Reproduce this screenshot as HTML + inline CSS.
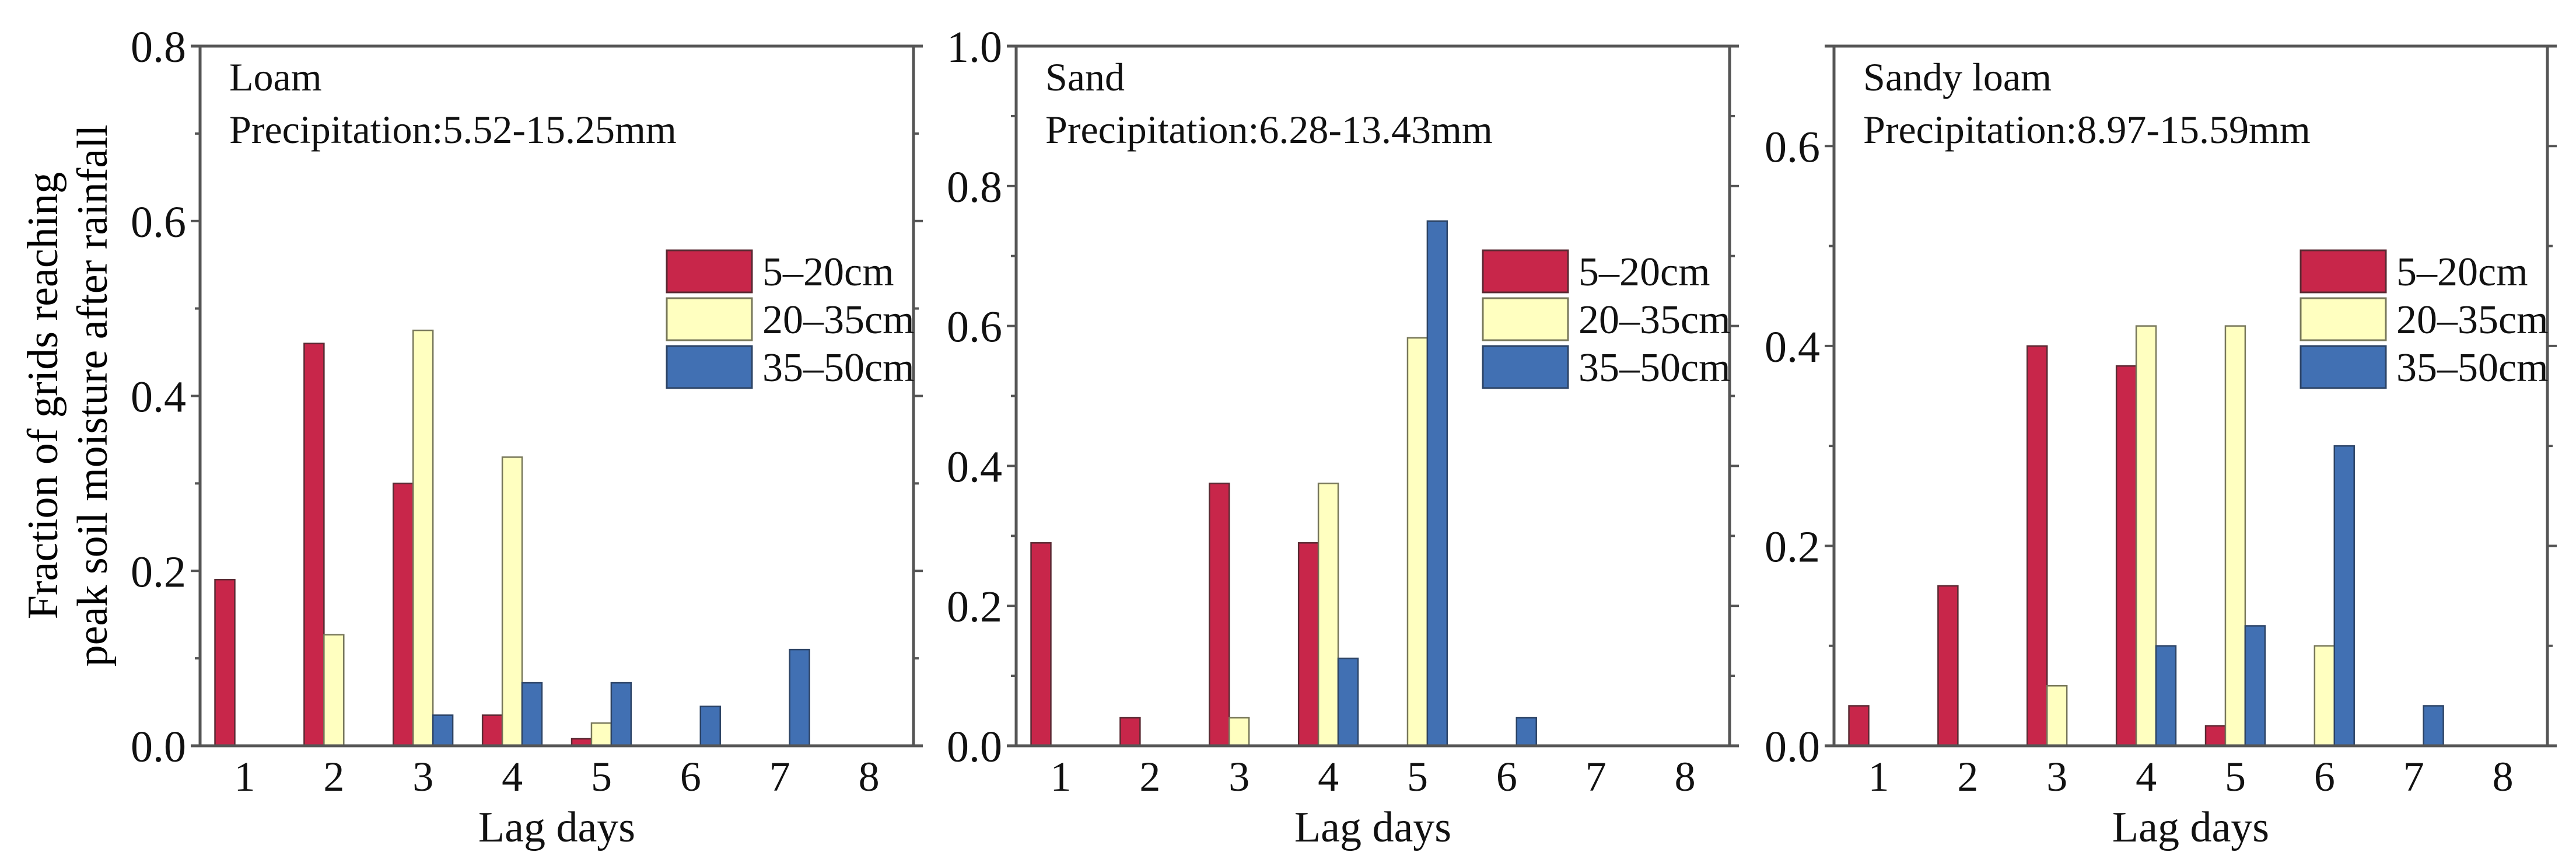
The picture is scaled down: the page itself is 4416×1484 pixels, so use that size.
<!DOCTYPE html>
<html><head><meta charset="utf-8"><style>
html,body{margin:0;padding:0;background:#fff}
svg{display:block;font-family:"Liberation Serif","Times New Roman",serif}
</style></head><body>
<svg id="chart" width="4416" height="1484" viewBox="0 0 4416 1484" xmlns="http://www.w3.org/2000/svg">
<g>
<text x="98" y="678" font-size="74" text-anchor="middle" transform="rotate(-90 98 678)">Fraction of grids reaching</text>
<text x="183" y="678" font-size="74" text-anchor="middle" transform="rotate(-90 183 678)">peak soil moisture after rainfall</text>
</g>
</svg>
<script>
const categories = [1,2,3,4,5,6,7,8];
const seriesNames = ["5\u201320cm","20\u201335cm","35\u201350cm"];
const panelTitles = ["Loam","Sand","Sandy loam"];
const panelSubtitles = ["Precipitation:5.52-15.25mm","Precipitation:6.28-13.43mm","Precipitation:8.97-15.59mm"];
const panelYMax = [0.8,1.0,0.7];
const panelYTicks = [[0,0.2,0.4,0.6,0.8],[0,0.2,0.4,0.6,0.8,1.0],[0,0.2,0.4,0.6]];
const loamShallow = [0.19,0.46,0.30,0.035,0.008,0,0,0];
const loamMiddle  = [0,0.127,0.475,0.33,0.026,0,0,0];
const loamDeep    = [0,0,0.035,0.072,0.072,0.045,0.11,0];
const sandShallow = [0.29,0.04,0.375,0.29,0,0,0,0];
const sandMiddle  = [0,0,0.04,0.375,0.583,0,0,0];
const sandDeep    = [0,0,0,0.125,0.75,0.04,0,0];
const sandyLoamShallow = [0.04,0.16,0.40,0.38,0.02,0,0,0];
const sandyLoamMiddle  = [0,0,0.06,0.42,0.42,0.10,0,0];
const sandyLoamDeep    = [0,0,0,0.10,0.12,0.30,0.04,0];

const panelData = [[loamShallow,loamMiddle,loamDeep],[sandShallow,sandMiddle,sandDeep],[sandyLoamShallow,sandyLoamMiddle,sandyLoamDeep]];
const colors = ["#c8264a","#ffffc0","#4170b3"];
const strokes = ["#5a2a33","#77775a","#2d4466"];
const lefts = [343,1742,3144];
const W = 1223, TOP = 79, BOT = 1278;
const svg = document.getElementById('chart');
const NS = "http://www.w3.org/2000/svg";
function mk(tag, attrs, parent){const e=document.createElementNS(NS,tag);for(const k in attrs)e.setAttribute(k,attrs[k]);(parent||svg).appendChild(e);return e;}

panelData.forEach((series,p)=>{
  const L = lefts[p], R = L+W, ymax = panelYMax[p];
  const g = mk('g',{});
  
  
  const xS = v => L + (v-0.5)/categories.length*W;
  const yS = v => BOT - v/ymax*(BOT-TOP);
  const step = W/categories.length, bw = step*0.222;
  series.forEach((vals,s)=>{
    vals.forEach((v,i)=>{
      if(v<=0) return;
      const x = xS(categories[i]) + (s-1.5)*bw;
      const r = mk('rect',{x:x,y:yS(v),width:bw,height:BOT-yS(v),fill:colors[s],stroke:strokes[s],'stroke-width':2.5},g);
      
      
    });
  });
  const fr = mk('path',{d:`M${L-16},${TOP}H${R+16}M${L-16},${BOT}H${R+16}M${L},${TOP}V${BOT}M${R},${TOP}V${BOT}`,stroke:'#555',
    'stroke-width':5,fill:'none'},g);
  
  
  const nMinor = Math.round(ymax/0.1);
  for(let k=0;k<=nMinor;k++){
    const v=k*0.1, y=yS(v), major = (k%2===0);
    const len = major?16:9;
    mk('line',{x1:L-len,y1:y,x2:L,y2:y,stroke:'#555','stroke-width':4},g);
    mk('line',{x1:R,y1:y,x2:R+len,y2:y,stroke:'#555','stroke-width':4},g);
  }
  panelYTicks[p].forEach(v=>{
    const t = mk('text',{x:L-24,y:yS(v)+27,'font-size':76,'text-anchor':'end',fill:'#111'},g);
    t.textContent = v.toFixed(1);
    
    
  });
  categories.forEach(c=>{
    const t = mk('text',{x:xS(c),y:1355,'font-size':72,'text-anchor':'middle',fill:'#111'},g);
    t.textContent = c;
    
    
  });
  const xl = mk('text',{x:L+W/2,y:1442,'font-size':74,'text-anchor':'middle',fill:'#111'},g);
  xl.textContent='Lag days';
  
  
  const t1 = mk('text',{x:L+50,y:155,'font-size':68,fill:'#111'},g);
  t1.textContent = panelTitles[p];
  
  
  const t2 = mk('text',{x:L+50,y:245,'font-size':68,fill:'#111'},g);
  t2.textContent = panelSubtitles[p];
  
  
  const lx = R-423;
  seriesNames.forEach((n,s)=>{
    const y0 = 429 + s*82;
    const lr = mk('rect',{x:lx,y:y0,width:146,height:72,fill:colors[s],stroke:strokes[s],'stroke-width':3},g);
    
    
    const lt = mk('text',{x:lx+164,y:y0+60,'font-size':70,fill:'#111'},g);
    lt.textContent = n;
    
    
  });
});
</script>
</body></html>
